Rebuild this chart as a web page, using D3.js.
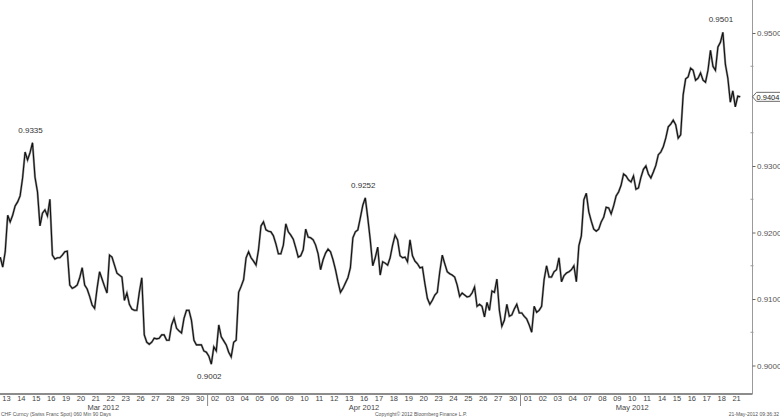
<!DOCTYPE html>
<html><head><meta charset="utf-8">
<script src="https://cdn.jsdelivr.net/npm/d3@7"></script>
<style>body{margin:0;background:#fff}svg{display:block}</style>
</head><body>
<svg id="c" width="780" height="419"></svg>
<script>
// ---- data ----
const dayLabels = ["13","14","15","16","19","20","21","22","23","26","27","28","29","30",
  "02","03","04","05","06","09","10","11","12","13","16","17","18","19","20","23","24","25","26","27","30",
  "01","02","03","04","07","08","09","10","11","14","15","16","17","18","21"];
const monthLabels = ["Mar 2012","Apr 2012","May 2012"];
const monthDays = [14,21,15];
const barsPerDay = 6; // 4-hour samples of the hourly series
const prices = [
 0.9163,0.9148,0.9171,0.9226,0.9216,0.9226, 0.9240,0.9246,0.9255,0.9282,0.9321,0.9309,
 0.9320,0.9335,0.9283,0.9261,0.9210,0.9229, 0.9234,0.9225,0.9250,0.9166,0.9160,0.9162,
 0.9162,0.9166,0.9171,0.9172,0.9121,0.9116, 0.9118,0.9121,0.9132,0.9147,0.9121,0.9115,
 0.9104,0.9091,0.9086,0.9116,0.9141,0.9130, 0.9119,0.9109,0.9166,0.9163,0.9151,0.9139,
 0.9136,0.9133,0.9098,0.9109,0.9092,0.9085, 0.9083,0.9083,0.9110,0.9132,0.9046,0.9035,
 0.9032,0.9035,0.9041,0.9040,0.9041,0.9046, 0.9046,0.9038,0.9038,0.9061,0.9071,0.9056,
 0.9052,0.9049,0.9071,0.9083,0.9083,0.9068, 0.9038,0.9031,0.9031,0.9031,0.9022,0.9020,
 0.9014,0.9002,0.9028,0.9022,0.9061,0.9043, 0.9037,0.9031,0.9020,0.9013,0.9035,0.9038,
 0.9110,0.9119,0.9129,0.9162,0.9171,0.9162, 0.9157,0.9151,0.9174,0.9210,0.9216,0.9204,
 0.9202,0.9201,0.9195,0.9183,0.9168,0.9168, 0.9181,0.9213,0.9201,0.9196,0.9190,0.9177,
 0.9163,0.9165,0.9174,0.9205,0.9193,0.9192, 0.9189,0.9181,0.9168,0.9144,0.9159,0.9169,
 0.9175,0.9171,0.9159,0.9144,0.9126,0.9110, 0.9116,0.9124,0.9132,0.9147,0.9192,0.9201,
 0.9204,0.9222,0.9241,0.9252,0.9222,0.9189, 0.9150,0.9162,0.9178,0.9136,0.9156,0.9154,
 0.9151,0.9162,0.9181,0.9196,0.9189,0.9165, 0.9162,0.9163,0.9156,0.9189,0.9165,0.9157,
 0.9153,0.9147,0.9148,0.9123,0.9101,0.9092, 0.9098,0.9106,0.9110,0.9141,0.9166,0.9153,
 0.9141,0.9138,0.9136,0.9133,0.9121,0.9104, 0.9109,0.9106,0.9103,0.9104,0.9109,0.9118,
 0.9089,0.9092,0.9089,0.9073,0.9095,0.9083, 0.9112,0.9110,0.9130,0.9083,0.9059,0.9068,
 0.9092,0.9074,0.9076,0.9085,0.9092,0.9079, 0.9079,0.9074,0.9070,0.9061,0.9050,0.9089,
 0.9080,0.9083,0.9089,0.9129,0.9150,0.9133, 0.9133,0.9141,0.9144,0.9162,0.9126,0.9135,
 0.9139,0.9141,0.9144,0.9150,0.9126,0.9180, 0.9195,0.9249,0.9259,0.9231,0.9217,0.9205,
 0.9202,0.9205,0.9216,0.9223,0.9238,0.9237, 0.9228,0.9240,0.9255,0.9261,0.9271,0.9288,
 0.9285,0.9279,0.9276,0.9285,0.9265,0.9267, 0.9283,0.9295,0.9300,0.9288,0.9282,0.9291,
 0.9301,0.9317,0.9321,0.9329,0.9342,0.9359, 0.9363,0.9369,0.9362,0.9342,0.9347,0.9407,
 0.9431,0.9434,0.9447,0.9444,0.9429,0.9432, 0.9440,0.9429,0.9426,0.9444,0.9474,0.9450,
 0.9444,0.9479,0.9486,0.9501,0.9453,0.9432, 0.9396,0.9413,0.9389,0.9405,0.9404
];
const yTicks = [0.90,0.91,0.92,0.93,0.94,0.95];
const yMinorTicks = [0.905,0.915,0.925,0.935,0.945];
const notes = [{i:13,dir:1},{i:85,dir:-1},{i:147,dir:1},{i:291,dir:1}];
const lastPrice = prices[prices.length-1];
const footLeft = "CHF Curncy (Swiss Franc Spot) 060 Min 90 Days";
const footMid = "Copyright\u00A9 2012 Bloomberg Finance L.P.";
const footRight = "21-May-2012 09:36:32";

// ---- drawing ----
const svg = d3.select("#c");
const font = "'Liberation Sans', Arial, sans-serif";
const axisX = 752.5, axisY = 394;
const nDays = dayLabels.length;
const x = d3.scaleLinear().domain([0, nDays]).range([-1, 744]);
const y = d3.scaleLinear().domain([0.90, 0.95]).range([365.5, 33]);
const fmt = d3.format(".4f");

// price line
const line = d3.line().x((d,i)=>x((i+0.5)/barsPerDay)).y(d=>y(d));
svg.append("path").datum(prices).attr("d",line)
  .attr("fill","none").attr("stroke","#999").attr("stroke-width",2.2);
svg.append("path").datum(prices).attr("d",line)
  .attr("fill","none").attr("stroke","#111").attr("stroke-width",1.1);

// annotations
svg.append("g").selectAll("text").data(notes).join("text")
  .attr("x",d=>x((d.i+0.5)/barsPerDay)-2)
  .attr("y",d=>d.dir>0 ? y(prices[d.i])-10 : y(prices[d.i])+15)
  .attr("text-anchor","middle").attr("font-family",font).attr("font-size",8)
  .attr("fill","#333").text(d=>fmt(prices[d.i]));

// right axis
svg.append("line").attr("x1",axisX).attr("x2",axisX).attr("y1",0).attr("y2",axisY)
  .attr("stroke","#9a9a9a").attr("stroke-width",1);
const labelled = yTicks.filter(t => Math.abs(t - lastPrice) > 0.002);
const ra = svg.append("g").attr("transform",`translate(${axisX},0)`)
  .call(d3.axisRight(y).tickValues(labelled).tickFormat(fmt).tickSize(3).tickPadding(1.5));
ra.select(".domain").remove();
ra.selectAll("line").attr("stroke","#666");
ra.selectAll("text").attr("font-family",font).attr("font-size",8).attr("fill","#555");
svg.append("g").selectAll("line").data(yMinorTicks).join("line")
  .attr("x1",axisX-2).attr("x2",axisX+1).attr("y1",d=>y(d)).attr("y2",d=>y(d)).attr("stroke","#999");

// last price box
const ly = y(lastPrice);
svg.append("path")
  .attr("d",`M${axisX},${ly} L${axisX+4},${ly-4.5} L781,${ly-4.5} L781,${ly+4.5} L${axisX+4},${ly+4.5} Z`)
  .attr("fill","#fff").attr("stroke","#444").attr("stroke-width",0.8);
svg.append("text").attr("x",axisX+4).attr("y",ly+3).attr("font-family",font).attr("font-size",7.5)
  .attr("fill","#222").text(fmt(lastPrice));

// bottom axis
svg.append("line").attr("x1",0).attr("x2",axisX).attr("y1",axisY).attr("y2",axisY)
  .attr("stroke","#8c8c8c").attr("stroke-width",2);
svg.append("g").selectAll("text").data(dayLabels).join("text")
  .attr("x",(d,i)=>x(i+0.5)).attr("y",axisY+6.5)
  .attr("text-anchor","middle").attr("font-family",font).attr("font-size",7.5)
  .attr("fill","#444").text(d=>d);
const starts = d3.cumsum([0, ...monthDays]);
svg.append("g").selectAll("line").data(starts.slice(1,-1)).join("line")
  .attr("x1",d=>x(d)).attr("x2",d=>x(d)).attr("y1",axisY).attr("y2",axisY+12)
  .attr("stroke","#888").attr("stroke-width",1);
svg.append("g").selectAll("text").data(monthLabels).join("text")
  .attr("x",(d,i)=>x((starts[i]+starts[i+1])/2)).attr("y",axisY+16)
  .attr("text-anchor","middle").attr("font-family",font).attr("font-size",7.5)
  .attr("fill","#444").text(d=>d);

// footer
const fs = 5;
svg.append("text").attr("x",1).attr("y",416).attr("font-family",font).attr("font-size",fs).attr("fill","#555").text(footLeft);
svg.append("text").attr("x",421).attr("y",416).attr("text-anchor","middle").attr("font-family",font).attr("font-size",fs).attr("fill","#555").text(footMid);
svg.append("text").attr("x",779).attr("y",416).attr("text-anchor","end").attr("font-family",font).attr("font-size",fs).attr("fill","#555").text(footRight);
</script>
</body></html>
